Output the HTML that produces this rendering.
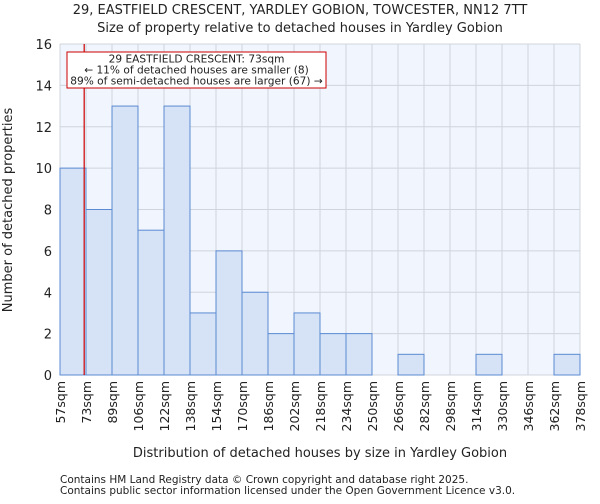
<!DOCTYPE html>
<html><head><meta charset="utf-8"><style>
body{margin:0;background:#fff;font-family:"DejaVu Sans","Liberation Sans",sans-serif;}
svg text{font-family:"DejaVu Sans","Liberation Sans",sans-serif;fill:#222;}
</style></head><body>
<svg id="chart" width="600" height="500" xmlns="http://www.w3.org/2000/svg">
<text x="300" y="14" text-anchor="middle" font-size="13">29, EASTFIELD CRESCENT, YARDLEY GOBION, TOWCESTER, NN12 7TT</text>
<text x="300" y="32" text-anchor="middle" font-size="13">Size of property relative to detached houses in Yardley Gobion</text>
<rect x="60" y="44" width="520" height="331" fill="#f1f5fd"/>
<g id="grid"></g><g id="bars"></g><g id="axes"></g>
<text x="320" y="457" text-anchor="middle" font-size="13">Distribution of detached houses by size in Yardley Gobion</text>
<text transform="translate(12,210) rotate(-90)" text-anchor="middle" font-size="13">Number of detached properties</text>
<text x="60" y="483" font-size="10.5">Contains HM Land Registry data © Crown copyright and database right 2025.</text>
<text x="60" y="494" font-size="10.5">Contains public sector information licensed under the Open Government Licence v3.0.</text>
</svg>
<script>
const binLabels=["57sqm","73sqm","89sqm","106sqm","122sqm","138sqm","154sqm","170sqm","186sqm","202sqm","218sqm","234sqm","250sqm","266sqm","282sqm","298sqm","314sqm","330sqm","346sqm","362sqm","378sqm"];
const counts=[10,8,13,7,13,3,6,4,2,3,2,2,0,1,0,0,1,0,0,1];
const yTicks=[0,2,4,6,8,10,12,14,16];
const markerIndex=0.93;
const NS="http://www.w3.org/2000/svg";
const x0=60,x1=580,yb=375,yt=44,ymax=16;
const bw=(x1-x0)/counts.length;
const X=i=>x0+i*bw;
const Y=v=>yb-(v/ymax)*(yb-yt);
function mk(tag,attrs,parent){const e=document.createElementNS(NS,tag);for(const k in attrs)e.setAttribute(k,attrs[k]);parent.appendChild(e);return e;}
const grid=document.getElementById('grid'),bars=document.getElementById('bars'),axes=document.getElementById('axes');
yTicks.forEach(t=>{
 const l=mk('line',{x1:x0,x2:x1,y1:Y(t),y2:Y(t),stroke:'#d0d4dc','stroke-width':1},grid);
 
 
 const tx=mk('text',{x:x0-8,y:Y(t)+5,'text-anchor':'end','font-size':13},axes);
 tx.textContent=t;
 
 
});
binLabels.forEach((lab,i)=>{
 const l=mk('line',{x1:X(i),x2:X(i),y1:yt,y2:yb,stroke:'#d0d4dc','stroke-width':1},grid);
 
 
 const tx=mk('text',{transform:`translate(${X(i)+5},${yb+6}) rotate(-90)`,'text-anchor':'end','font-size':12.5},axes);
 tx.textContent=lab;
 
 
});
counts.forEach((c,i)=>{
 if(c<=0)return;
 const r=mk('rect',{x:X(i),y:Y(c),width:bw,height:yb-Y(c),fill:'#d6e2f5',stroke:'#5b8bd3','stroke-width':1},bars);
 
 
});
const m=mk('line',{x1:X(markerIndex),x2:X(markerIndex),y1:yt,y2:yb,stroke:'#cc0000','stroke-width':1.2},axes);


const box=mk('rect',{x:67,y:52,width:259,height:36,fill:'#fff',stroke:'#cc0000','stroke-width':1},axes);


["29 EASTFIELD CRESCENT: 73sqm","← 11% of detached houses are smaller (8)","89% of semi-detached houses are larger (67) →"].forEach((s,k)=>{
 const t=mk('text',{x:196.5,y:62.5+k*11,'text-anchor':'middle','font-size':10.6},axes);
 t.textContent=s;
 
 
});
</script>
</body></html>
